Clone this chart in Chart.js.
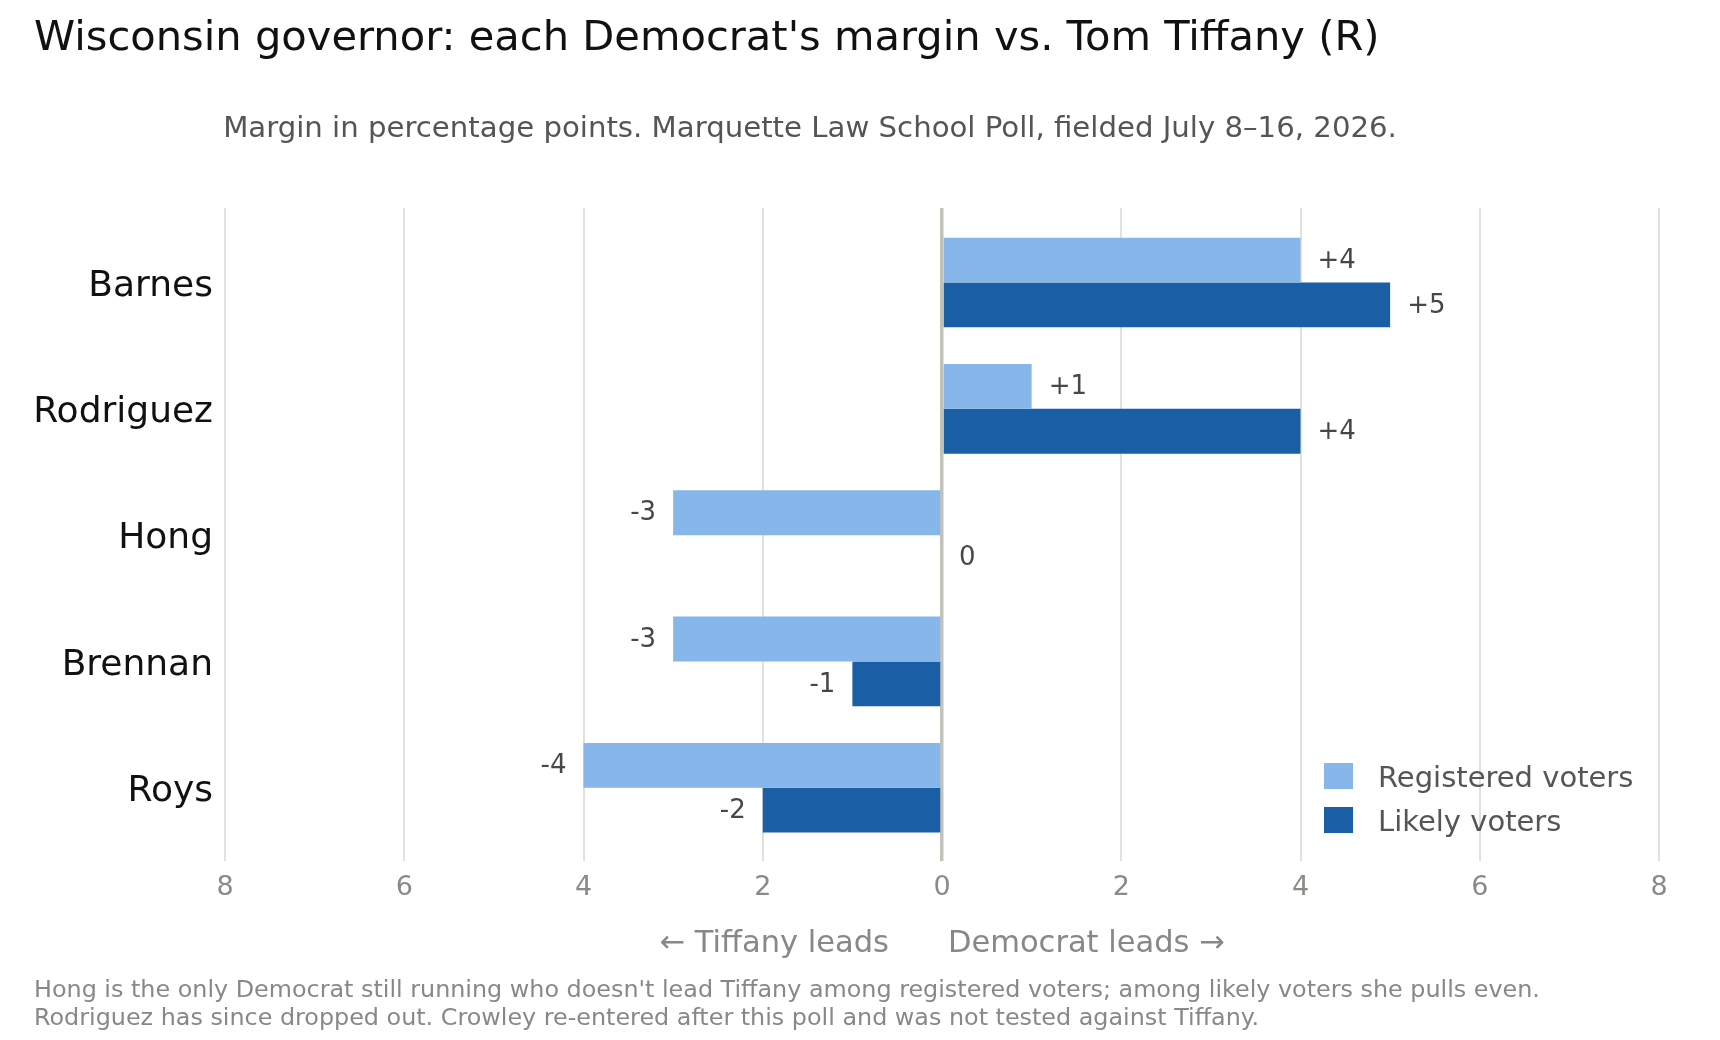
<!DOCTYPE html>
<html>
<head>
<meta charset="utf-8">
<script src="https://cdn.jsdelivr.net/npm/chart.js@4.4.1/dist/chart.umd.min.js"></script>
<style>
    body { margin: 0; background: #fff; font-family: "DejaVu Sans", sans-serif; }
    #wrap { position: relative; width: 1720px; height: 1040px; overflow: hidden; }
    #chart { position: absolute; left: 0; top: 0; }
    .txt { position: absolute; white-space: nowrap; }
    #title { left: 34px; top: 11px; font-size: 41.6px; color: #111; }
    #subtitle { left: 0; width: 1620px; text-align: center; top: 110px; font-size: 29.2px; color: #555; }
    #leftNote { right: 831px; top: 924px; font-size: 30.5px; color: #888; }
    #rightNote { left: 948px; top: 924px; font-size: 30.5px; color: #888; }
    #footer { left: 34px; top: 975px; font-size: 23.85px; color: #888; line-height: 28px; }
    .leg { position: absolute; left: 1324px; font-size: 29px; color: #555; }
    .leg span { display: inline-block; width: 29px; height: 26px; vertical-align: middle; margin-right: 25px; position: relative; top: -3px; }
</style>
</head>
<body>
<div id="wrap">
    <canvas id="chart" width="1720" height="1040"></canvas>
    <div class="txt" id="title">Wisconsin governor: each Democrat's margin vs. Tom Tiffany (R)</div>
    <div class="txt" id="subtitle">Margin in percentage points. Marquette Law School Poll, fielded July 8–16, 2026.</div>
    <div class="txt" id="leftNote">← Tiffany leads</div>
    <div class="txt" id="rightNote">Democrat leads →</div>
    <div class="txt" id="footer">Hong is the only Democrat still running who doesn't lead Tiffany among registered voters; among likely voters she pulls even.<br>Rodriguez has since dropped out. Crowley re-entered after this poll and was not tested against Tiffany.</div>
    <div id="legend"></div>
</div>
<script>
// poll data
const categories = ['Barnes', 'Rodriguez', 'Hong', 'Brennan', 'Roys'];
const registered = [4, 1, -3, -3, -4];
const likely = [5, 4, 0, -1, -2];
const seriesNames = ['Registered voters', 'Likely voters'];
const seriesColors = ['#86b6ea', '#1a5ea5'];
const xTicks = [-8, -6, -4, -2, 0, 2, 4, 6, 8];

// build the legend from the series
seriesNames.forEach(function (name, i) {
    const d = document.createElement('div');
    d.className = 'leg';
    d.style.top = (760 + i * 44) + 'px';
    d.innerHTML = '<span style="background:' + seriesColors[i] + '"></span>' + name;
    document.getElementById('legend').appendChild(d);
});

function toPoints(values) {
    return values.map(function (v, i) { return { x: v, y: i }; });
}

// value labels next to the bar ends
const barLabels = {
    id: 'barLabels',
    afterDatasetsDraw: function (chart) {
        const ctx = chart.ctx;
        ctx.save();
        ctx.font = '26px "DejaVu Sans"';
        ctx.fillStyle = '#474747';
        ctx.textBaseline = 'middle';
        chart.data.datasets.forEach(function (ds, di) {
            const meta = chart.getDatasetMeta(di);
            meta.data.forEach(function (el, i) {
                const v = ds.data[i].x;
                const txt = v > 0 ? '+' + v : String(v);
                if (v >= 0) {
                    ctx.textAlign = 'left';
                    ctx.fillText(txt, el.x + 17, el.y + 1);
                } else {
                    ctx.textAlign = 'right';
                    ctx.fillText(txt, el.x - 17, el.y + 1);
                }
            });
        });
        ctx.restore();
    }
};

const ctx = document.getElementById('chart').getContext('2d');
const myChart = new Chart(ctx, {
    type: 'bar',
    data: {
        datasets: [
            { label: seriesNames[0], data: toPoints(registered), backgroundColor: seriesColors[0] },
            { label: seriesNames[1], data: toPoints(likely), backgroundColor: seriesColors[1] }
        ]
    },
    options: {
        indexAxis: 'y',
        responsive: false,
        animation: false,
        categoryPercentage: 0.71,
        barPercentage: 1,
        layout: { padding: { left: 0, right: 61, top: 208, bottom: 118 } },
        plugins: {
            legend: { display: false },
            tooltip: { enabled: false }
        },
        scales: {
            x: {
                type: 'linear',
                min: -8,
                max: 8,
                afterBuildTicks: function (scale) {
                    scale.ticks = xTicks.map(function (v) { return { value: v }; });
                },
                afterFit: function (scale) { scale.height = 61; },
                ticks: {
                    color: '#8a8a86',
                    font: { family: 'DejaVu Sans', size: 27 },
                    padding: 11,
                    callback: function (v) { return Math.abs(v); }
                },
                grid: {
                    drawTicks: false,
                    color: function (c) { return c.tick && c.tick.value === 0 ? '#c2c2ba' : '#e2e2dc'; },
                    lineWidth: function (c) { return c.tick && c.tick.value === 0 ? 3.5 : 2; }
                },
                border: { display: false }
            },
            y: {
                type: 'linear',
                reverse: true,
                offset: false,
                grace: 0,
                min: -0.59,
                max: 4.58,
                afterBuildTicks: function (scale) {
                    scale.ticks = categories.map(function (c, i) { return { value: i }; });
                },
                afterFit: function (scale) { scale.width = 225; },
                ticks: {
                    color: '#111',
                    font: { family: 'DejaVu Sans', size: 36 },
                    padding: 4,
                    labelOffset: 4,
                    callback: function (v) { return categories[v]; }
                },
                grid: { display: false },
                border: { display: false }
            }
        }
    },
    plugins: [barLabels]
});
</script>
</body>
</html>
